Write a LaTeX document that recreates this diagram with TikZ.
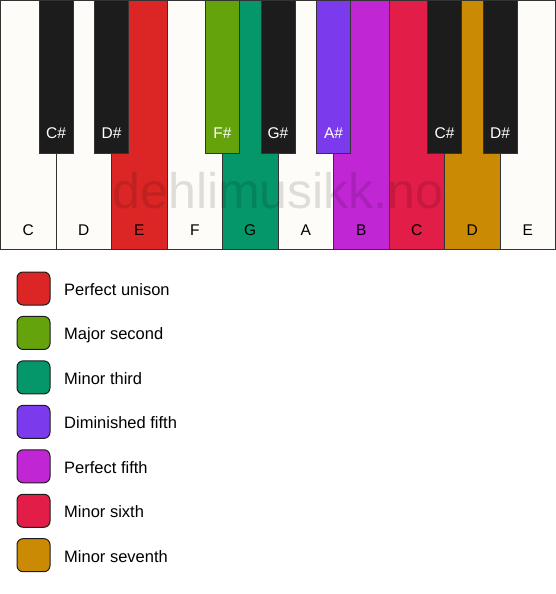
\documentclass[tikz,border=0pt]{standalone}
\usepackage{fontspec}
\setmainfont{Liberation Sans}
\definecolor{wkey}{HTML}{FDFCF9}
\definecolor{bkey}{HTML}{1C1C1C}
\definecolor{cred}{HTML}{DC2626}
\definecolor{clime}{HTML}{65A30D}
\definecolor{cteal}{HTML}{059669}
\definecolor{cviolet}{HTML}{7C3AED}
\definecolor{cfuchsia}{HTML}{C026D3}
\definecolor{crose}{HTML}{E11D48}
\definecolor{cgold}{HTML}{CA8A04}
\definecolor{edge}{HTML}{333333}
\begin{document}
\begin{tikzpicture}[x=1pt,y=-1pt,
  whitekey/.style={draw=edge,line width=1pt,minimum width=55.5pt,minimum height=249pt,anchor=north west,inner sep=0pt,outer sep=0pt},
  blackkey/.style={draw=edge,line width=1pt,minimum width=34pt,minimum height=153pt,anchor=north west,inner sep=0pt,outer sep=0pt},
  wlabel/.style={font=\fontsize{15.5}{15.5}\selectfont,text=black,anchor=base,inner sep=0pt},
  blabel/.style={font=\fontsize{15.5}{15.5}\selectfont,text=white,anchor=base,inner sep=0pt},
  swatch/.style={draw=bkey,line width=1pt,rounded corners=6pt,minimum size=33pt,inner sep=0pt},
  legtext/.style={font=\fontsize{16.5}{16.5}\selectfont,anchor=base west,inner sep=0pt}]
\useasboundingbox (0,0) rectangle (556,594);
% white keys
\foreach \i/\c/\n in {0/wkey/C,1/wkey/D,2/cred/E,3/wkey/F,4/cteal/G,5/wkey/A,6/cfuchsia/B,7/crose/C,8/cgold/D,9/wkey/E}{
  \node[whitekey,fill=\c] (w\i) at ({0.5+\i*55.5},0.5) {};
  \node[wlabel] (wl\i) at ({0.5+\i*55.5+27.75},235.5) {\n};
}
% watermark
\node[font=\fontsize{50}{50}\selectfont,text=black,text opacity=0.12,anchor=base,inner sep=0pt] (wm) at (278,208) {dehlimusikk.no};
% black keys
\foreach \x/\c/\n [count=\k] in {39/bkey/C\#,94.5/bkey/D\#,205.5/clime/F\#,261/bkey/G\#,316.5/cviolet/A\#,427.5/bkey/C\#,483/bkey/D\#}{
  \node[blackkey,fill=\c] (b\k) at (\x,0.5) {};
  \node[blabel] (bl\k) at ({\x+17},138.5) {\n};
}
% legend
\foreach \c/\t [count=\k] in {cred/Perfect unison,clime/Major second,cteal/Minor third,cviolet/Diminished fifth,cfuchsia/Perfect fifth,crose/Minor sixth,cgold/Minor seventh}{
  \node[swatch,fill=\c] (s\k) at (33.5,{288.5+(\k-1)*44.45}) {};
  \node[legtext] (t\k) at (64,{295.5+(\k-1)*44.45}) {\t};
}
\end{tikzpicture}
\end{document}
